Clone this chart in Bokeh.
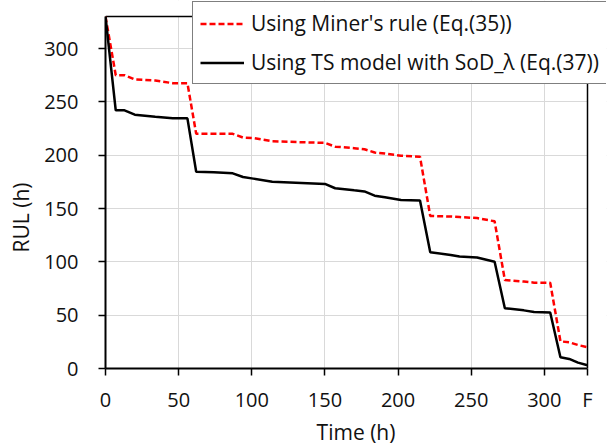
from bokeh.embed import file_html
from bokeh.resources import INLINE
from bokeh.plotting import figure
from bokeh.models import (Range1d, FixedTicker, Legend, LegendItem, Title,
                          BoxAnnotation)

# Time (h) at which the RUL estimates were evaluated
time_h = [0, 7, 13, 20, 34, 46, 56, 62, 74, 87, 94, 101, 114, 150, 157, 170,
          177, 184, 191, 202, 215, 222, 236, 242, 254, 266, 273, 286, 293,
          304, 311, 317, 323, 329.5]

# RUL estimated with Miner's rule (Eq.(35))
rul_miner = [330, 275, 275, 271, 270, 267.5, 267.5, 220, 220, 220, 216.5, 216,
             213, 211.5, 208, 206.5, 205.5, 202.5, 201.5, 199.5, 198.5, 143,
             142.5, 142, 141, 138, 83, 81.5, 80.5, 80.5, 25.5, 24.5, 22, 20]

# RUL estimated with the TS model and SoD_lambda (Eq.(37))
rul_ts = [330, 242, 242, 238, 236, 234.5, 234.5, 184.5, 184, 183, 179.5, 178,
          175, 173, 169, 167, 166, 162, 160.5, 158, 157.5, 109, 106.5, 105,
          104, 100, 56.5, 54.5, 53, 52.5, 10.5, 9, 5.5, 3]

x_end = 329.5          # failure time, labelled "F"
y_end = 330
x_ticks = [0, 50, 100, 150, 200, 250, 300, x_end]
y_ticks = [0, 50, 100, 150, 200, 250, 300]
x_overrides = {x_end: "F"}

FONT = "Open Sans"
TXT = "#111111"

# The drawing area is a little larger than the data box so that the legend
# can sit across the box's top-right corner.
W, H = 608, 448
BOX_L, BOX_R, BOX_T, BOX_B = 105, 587, 16, 368
AREA_R, AREA_T = 606, 0
x_hi = x_end * (AREA_R - BOX_L) / (BOX_R - BOX_L)
y_hi = y_end * (BOX_B - AREA_T) / (BOX_B - BOX_T)

p = figure(width=W, height=H, output_backend="svg", toolbar_location=None,
           x_range=Range1d(0, x_hi), y_range=Range1d(0, y_hi),
           min_border_left=BOX_L, min_border_right=W - AREA_R,
           min_border_top=AREA_T, min_border_bottom=H - BOX_B)

p.background_fill_color = "white"
p.border_fill_color = "white"
p.outline_line_color = None

# axes
for ax in (p.xaxis[0], p.yaxis[0]):
    ax.axis_line_color = "black"
    ax.axis_line_width = 2
    ax.major_tick_line_color = "black"
    ax.major_tick_line_width = 1.5
    ax.major_tick_out = 7
    ax.major_tick_in = 0
    ax.minor_tick_line_color = None
    ax.major_label_text_font = FONT
    ax.major_label_text_font_size = "20px"
    ax.major_label_text_color = TXT

p.xaxis.ticker = FixedTicker(ticks=x_ticks)
p.yaxis.ticker = FixedTicker(ticks=y_ticks)
p.xaxis.bounds = (0, x_end)
p.yaxis.bounds = (0, y_end)
p.xaxis.major_label_overrides = x_overrides
p.xaxis.major_label_standoff = 10
p.yaxis.major_label_standoff = 20

p.xaxis.axis_label = "Time (h)"
p.xaxis.axis_label_text_font = FONT
p.xaxis.axis_label_text_font_size = "21px"
p.xaxis.axis_label_text_font_style = "normal"
p.xaxis.axis_label_text_color = TXT
p.xaxis.axis_label_standoff = 2

# vertical axis title, sitting a bit below the middle of the box
p.add_layout(Title(text="RUL (h)", align="left", offset=116,
                   vertical_align="middle", standoff=11,
                   text_font=FONT, text_font_size="21px",
                   text_font_style="normal", text_color=TXT), "left")

# grid
p.xgrid.grid_line_color = "#d9d9d9"
p.ygrid.grid_line_color = "#d9d9d9"
p.xgrid.grid_line_width = 1
p.ygrid.grid_line_width = 1

# keep the grid inside the data box
for kw in ({"left": x_end}, {"bottom": y_end}):
    p.add_layout(BoxAnnotation(fill_color="white", fill_alpha=1.0,
                               line_color=None, level="underlay", **kw))

# top and right edges of the data box
p.line([0, x_end, x_end], [y_end, y_end, 0], line_color="black",
       line_width=1.5)

r_miner = p.line(time_h, rul_miner, line_color="#ff0000", line_width=2.5,
                 line_dash="6 3")
r_ts = p.line(time_h, rul_ts, line_color="black", line_width=2.5)

legend = Legend(
    items=[LegendItem(label="Using Miner's rule (Eq.(35))", renderers=[r_miner]),
           LegendItem(label="Using TS model with SoD_\u03bb (Eq.(37))", renderers=[r_ts])],
    location=(87, 284),
    label_text_font=FONT, label_text_font_size="21px", label_text_color=TXT,
    glyph_width=44, glyph_height=25, label_height=25, label_standoff=7,
    spacing=11, padding=7, margin=0,
    border_line_color="black", border_line_width=1.5,
    background_fill_color="white", background_fill_alpha=1.0,
)
p.add_layout(legend, "center")

open("out.html", "w").write(file_html(p, INLINE))
